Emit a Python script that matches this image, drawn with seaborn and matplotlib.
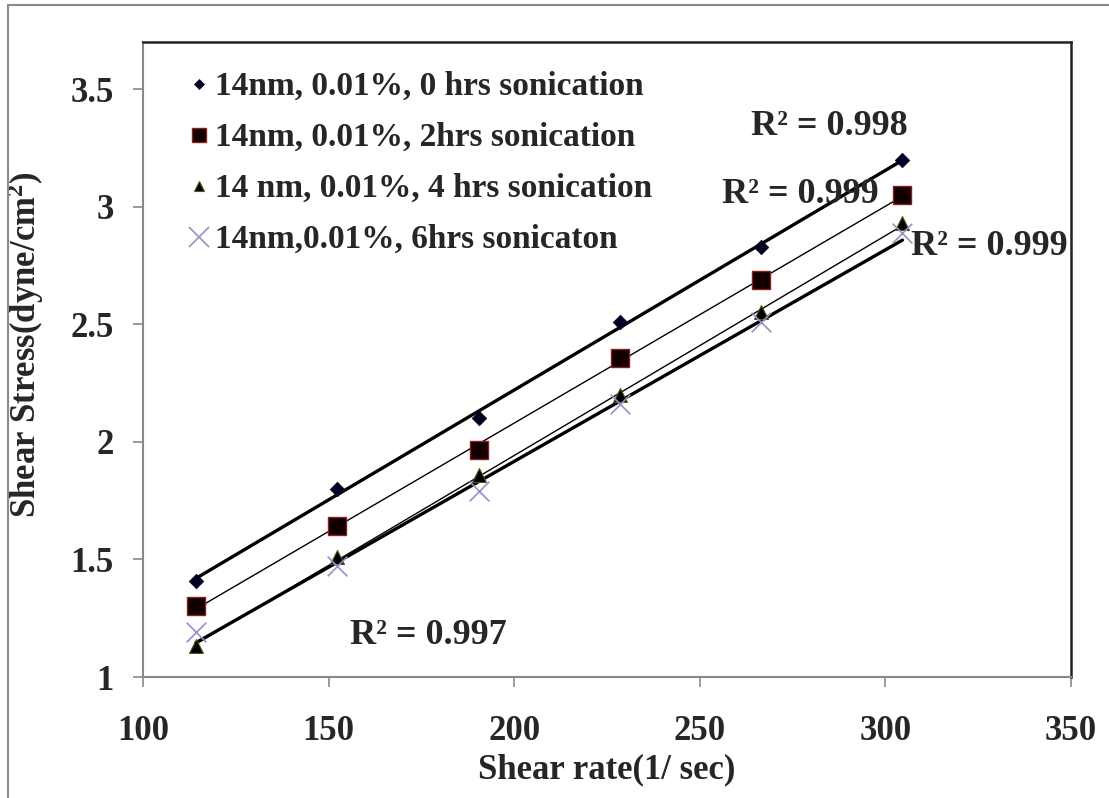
import numpy as np
import pandas as pd
import matplotlib
matplotlib.use("Agg")
import matplotlib.pyplot as plt
from matplotlib.lines import Line2D
import seaborn as sns

# ---- data ----
shear_rate = [114.2, 152.3, 190.4, 228.5, 266.6, 304.6]
stress_0h = [1.41, 1.80, 2.10, 2.51, 2.83, 3.20]
stress_2h = [1.30, 1.64, 1.965, 2.355, 2.69, 3.05]
stress_4h = [1.13, 1.51, 1.86, 2.20, 2.55, 2.93]
stress_6h = [1.19, 1.47, 1.79, 2.16, 2.51, 2.89]
labels = ["14nm, 0.01%, 0 hrs sonication",
          "14nm, 0.01%, 2hrs sonication",
          "14 nm, 0.01%, 4 hrs sonication",
          "14nm,0.01%, 6hrs sonicaton"]
r2_texts = ["R² = 0.998", "R² = 0.999", "R² = 0.999", "R² = 0.997"]
x_ticks = [100, 150, 200, 250, 300, 350]
y_ticks = [1, 1.5, 2, 2.5, 3, 3.5]

sns.set_style("white")
plt.rcParams['font.family'] = ['Liberation Serif', 'DejaVu Serif']
plt.rcParams['font.weight'] = 'bold'
plt.rcParams['mathtext.fontset'] = 'custom'
plt.rcParams['mathtext.rm'] = 'Liberation Serif:bold'
plt.rcParams['mathtext.it'] = 'Liberation Serif:bold'
plt.rcParams['mathtext.bf'] = 'Liberation Serif:bold'

fig = plt.figure(figsize=(11.09, 7.98), dpi=100)
ax = fig.add_axes([143/1109, 1 - 677/798, (1071-143)/1109, (677-42)/798])

series = [stress_0h, stress_2h, stress_4h, stress_6h]
styles = [
    dict(marker='D', s=55, color='#000022', edgecolor='#000022', linewidth=0.5),
    dict(marker='s', s=180, color='#120000', edgecolor='#8b2020', linewidth=1.0),
    dict(marker='^', s=100, color='#000000', edgecolor='#4b5a1a', linewidth=0.8),
    dict(marker='x', s=200, color='#9a8fc8', linewidth=1.2),
]
line_w = [2.4, 1.0, 1.0, 2.4]

for ys, st, lw in zip(series, styles, line_w):
    df = pd.DataFrame({"x": shear_rate, "y": ys})
    sns.regplot(data=df, x="x", y="y", ax=ax, ci=None, scatter=False,
                truncate=True, line_kws=dict(color='black', lw=lw), order=1)
for ys, st, lab in zip(series, styles, labels):
    df = pd.DataFrame({"x": shear_rate, "y": ys})
    sns.scatterplot(data=df, x="x", y="y", ax=ax, zorder=5, legend=False, **st)

ax.set_xlim(100, 350)
ax.set_ylim(1, 3.7)
ax.set_xticks(x_ticks)
ax.set_yticks(y_ticks)
ax.set_xticklabels([str(v) for v in x_ticks])
ax.set_yticklabels([f"{v:g}" for v in y_ticks])

for side in ['left', 'bottom']:
    ax.spines[side].set_color('#8a8a8a')
    ax.spines[side].set_linewidth(1.5)
for side in ['top', 'right']:
    ax.spines[side].set_color('#222222')
    ax.spines[side].set_linewidth(1.8)

ax.tick_params(axis='both', direction='out', length=7, width=1.2,
               color='#8a8a8a', labelsize=25, pad=14)
ax.tick_params(axis='y', left=True)
ax.tick_params(axis='x', bottom=True, pad=20)
for t in ax.get_xticklabels() + ax.get_yticklabels():
    t.set_fontweight('bold')

ax.set_xlabel("Shear rate(1/ sec)", fontsize=25, fontweight='bold', labelpad=4)
ax.set_ylabel("Shear Stress(dyne/cm$^{2}$)", fontsize=25, fontweight='bold')
ax.yaxis.set_label_coords(-0.104, 0.523)

# R² annotations
r2_pos = [(284.8, 3.34), (277, 3.05), (328, 2.83), (177, 1.175)]
for txt, (xx, yy) in zip(r2_texts, r2_pos):
    ax.text(xx, yy, txt, ha='center', va='center', fontsize=26, fontweight='bold')

# legend
handles = []
for st, lab in zip(styles, labels):
    ms = np.sqrt(st['s'])
    if st['marker'] == 'x':
        h = Line2D([], [], linestyle='none', marker='x', markersize=ms,
                   markeredgecolor=st['color'], markeredgewidth=st['linewidth'])
    else:
        h = Line2D([], [], linestyle='none', marker=st['marker'], markersize=ms * 0.75,
                   markerfacecolor=st['color'], markeredgecolor=st['edgecolor'],
                   markeredgewidth=st['linewidth'])
    handles.append(h)
leg = ax.legend(handles, labels, loc='upper left', bbox_to_anchor=(0.035, 0.975),
                frameon=False, handlelength=0.6, handletextpad=0.2,
                labelspacing=0.6, prop=dict(family='Liberation Serif', weight='bold', size=24),
                borderaxespad=0)

# figure outer border (top and left)
fig.add_artist(Line2D([8/1109, 1], [1 - 5/798, 1 - 5/798], transform=fig.transFigure,
                      color='#8a8a8a', lw=1.5))
fig.add_artist(Line2D([8/1109, 8/1109], [0, 1 - 5/798], transform=fig.transFigure,
                      color='#8a8a8a', lw=1.5))

fig.savefig("out.png", dpi=100)
